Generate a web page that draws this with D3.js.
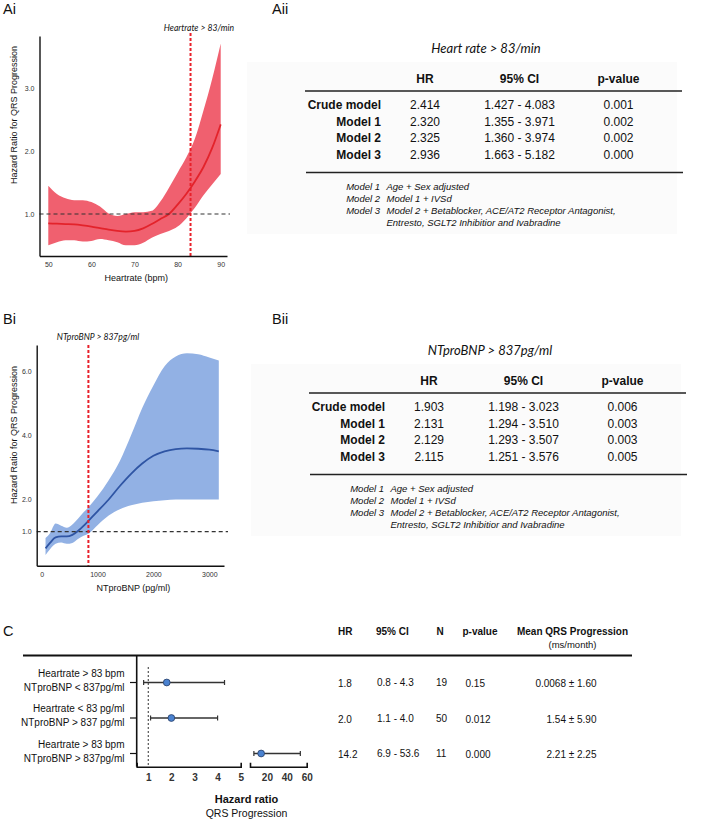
<!DOCTYPE html>
<html>
<head>
<meta charset="utf-8">
<script src="https://cdn.jsdelivr.net/npm/d3@7"></script>
<style>
  body { margin: 0; background: #fff; }
  text { font-family: "Liberation Sans", Arial, sans-serif; fill: #111; }
  .it { font-family: Lato, "Open Sans", sans-serif; font-style: italic; }
  .tick text { font-size: 7px; fill: #333; }
</style>
</head>
<body>
<svg id="fig" width="709" height="836"></svg>
<script>
// ---- panel Ai : heart rate spline ----
let hrX     = [50, 52, 54, 56, 58, 60, 62, 64, 66, 68, 70, 72, 74, 76, 78, 80, 82, 84, 86, 88, 90];
let hrFit   = [0.85, 0.845, 0.84, 0.835, 0.82, 0.80, 0.775, 0.75, 0.73, 0.72, 0.73, 0.77, 0.84, 0.92, 1.0, 1.15, 1.32, 1.52, 1.75, 2.05, 2.43];
let hrUpper = [1.45, 1.32, 1.25, 1.22, 1.22, 1.19, 1.12, 1.01, 0.97, 1.0, 1.03, 1.03, 1.05, 1.2, 1.42, 1.66, 1.9, 2.2, 2.65, 3.15, 3.72];
let hrLower = [0.5, 0.55, 0.58, 0.58, 0.56, 0.57, 0.6, 0.58, 0.55, 0.5, 0.5, 0.54, 0.62, 0.68, 0.73, 0.8, 0.93, 1.1, 1.3, 1.47, 1.64];
let hrXTicks = [50, 60, 70, 80, 90];
let hrYTicks = [1, 2, 3];
let hrCut = 83;

// ---- panel Bi : NTproBNP spline ----
let bnpX     = [70, 150, 250, 350, 450, 550, 650, 750, 850, 1000, 1200, 1400, 1600, 1800, 2000, 2200, 2400, 2600, 2800, 3000, 3170];
let bnpFit   = [0.48, 0.65, 0.82, 0.85, 0.85, 0.9, 1.02, 1.18, 1.36, 1.63, 2.0, 2.42, 2.8, 3.12, 3.36, 3.5, 3.57, 3.59, 3.58, 3.55, 3.5];
let bnpUpper = [0.8, 0.95, 1.25, 1.18, 1.12, 1.22, 1.4, 1.6, 1.78, 2.1, 2.6, 3.2, 4.0, 4.85, 5.55, 6.15, 6.45, 6.55, 6.52, 6.42, 6.33];
let bnpLower = [0.27, 0.45, 0.62, 0.66, 0.62, 0.65, 0.77, 0.87, 0.95, 1.2, 1.5, 1.7, 1.82, 1.9, 1.95, 1.98, 2.0, 2.0, 2.0, 2.0, 2.0];
let bnpXTicks = [0, 1000, 2000, 3000];
let bnpYTicks = [1, 2, 4, 6];
let bnpCut = 837;

// ---- tables Aii / Bii ----
let modelNames = ["Crude model", "Model 1", "Model 2", "Model 3"];
let hrTableHR  = ["2.414", "2.320", "2.325", "2.936"];
let hrTableCI  = ["1.427 - 4.083", "1.355 - 3.971", "1.360 - 3.974", "1.663 - 5.182"];
let hrTableP   = ["0.001", "0.002", "0.002", "0.000"];
let bnpTableHR = ["1.903", "2.131", "2.129", "2.115"];
let bnpTableCI = ["1.198 - 3.023", "1.294 - 3.510", "1.293 - 3.507", "1.251 - 3.576"];
let bnpTableP  = ["0.006", "0.003", "0.003", "0.005"];
let footKeys  = ["Model 1", "Model 2", "Model 3", ""];
let footTexts = ["Age + Sex adjusted", "Model 1 + IVSd",
                 "Model 2 + Betablocker, ACE/AT2 Receptor Antagonist,",
                 "Entresto, SGLT2 Inhibitior and Ivabradine"];

// ---- panel C : forest plot ----
let groupLine1 = ["Heartrate > 83 bpm", "Heartrate < 83 pg/ml", "Heartrate > 83 bpm"];
let groupLine2 = ["NTproBNP < 837pg/ml", "NTproBNP > 837 pg/ml", "NTproBNP > 837pg/ml"];
let groupHR    = [1.8, 2.0, 14.2];
let groupLo    = [0.8, 1.1, 6.9];
let groupHi    = [4.3, 4.0, 53.6];
let groupN     = [19, 50, 11];
let groupP     = ["0.15", "0.012", "0.000"];
let groupMean  = ["0.0068 ± 1.60", "1.54 ± 5.90", "2.21 ± 2.25"];
let forestTicksLow  = [1, 2, 3, 4, 5];
let forestTicksHigh = [20, 40, 60];

let svg = d3.select("#fig");

// panel letters
[["Ai", 3, 14], ["Aii", 272, 14], ["Bi", 3, 324], ["Bii", 272, 324], ["C", 3, 636]].forEach(function(l) {
    svg.append("text").attr("x", l[1]).attr("y", l[2]).style("font-size", "14.5px").text(l[0]);
});

/**
 * spline plot with confidence band
 */
function splinePlot(opt) {
    let g = svg.append("g");
    let x = d3.scaleLinear().domain(opt.xDomain).range(opt.xRange);
    let y = d3.scaleLinear().domain(opt.yDomain).range(opt.yRange);

    let rows = opt.xs.map(function(d, i) {
        return { x: d, fit: opt.fit[i], lo: opt.lower[i], hi: opt.upper[i] };
    });

    let area = d3.area()
        .x(function(d) { return x(d.x); })
        .y0(function(d) { return y(d.lo); })
        .y1(function(d) { return y(d.hi); })
        .curve(d3.curveMonotoneX);
    let line = d3.line()
        .x(function(d) { return x(d.x); })
        .y(function(d) { return y(d.fit); })
        .curve(d3.curveMonotoneX);

    g.append("path").datum(rows).attr("d", area).attr("fill", opt.band);
    g.append("path").datum(rows).attr("d", line)
        .attr("fill", "none").attr("stroke", opt.color).attr("stroke-width", 1.8);

    // reference line HR = 1
    g.append("line")
        .attr("x1", opt.xRange[0]).attr("x2", opt.refEnd)
        .attr("y1", y(1)).attr("y2", y(1))
        .attr("stroke", "#333").attr("stroke-width", 1.1).attr("stroke-dasharray", "4,3");

    // cut off
    g.append("line")
        .attr("x1", x(opt.cut)).attr("x2", x(opt.cut))
        .attr("y1", opt.cutTop).attr("y2", opt.yRange[0])
        .attr("stroke", "#e8202a").attr("stroke-width", 2).attr("stroke-dasharray", "3,2");
    g.append("text").attr("class", "it")
        .attr("x", opt.cutLabelX).attr("y", opt.cutLabelY)
        .attr("text-anchor", "middle").style("font-size", "8.6px")
        .text(opt.cutLabel);

    let ax = g.append("g")
        .attr("transform", "translate(0," + opt.yRange[0] + ")")
        .call(d3.axisBottom(x).tickValues(opt.xTicks).tickSize(0).tickSizeOuter(0).tickPadding(6)
            .tickFormat(d3.format("d")));
    let ay = g.append("g")
        .attr("transform", "translate(" + opt.xRange[0] + ",0)")
        .call(d3.axisLeft(y).tickValues(opt.yTicks).tickSize(0).tickSizeOuter(0).tickPadding(5)
            .tickFormat(d3.format(".1f")));
    [ax, ay].forEach(function(a) {
        a.select(".domain").attr("stroke", "#111").attr("stroke-width", 1.4);
    });

    g.append("text")
        .attr("x", (opt.xRange[0] + opt.xRange[1]) / 2 + 3).attr("y", opt.xTitleY)
        .attr("text-anchor", "middle").style("font-size", "9px").text(opt.xTitle);
    g.append("text")
        .attr("transform", "translate(17," + opt.yTitleY + ") rotate(-90)")
        .attr("text-anchor", "middle").style("font-size", "9px")
        .text("Hazard Ratio for QRS Progression");
}

splinePlot({
    xs: hrX, fit: hrFit, upper: hrUpper, lower: hrLower,
    xDomain: [47.96, 91.46], xRange: [39.5, 227],
    yDomain: [0.33, 3.84], yRange: [256, 36],
    xTicks: hrXTicks, yTicks: hrYTicks,
    band: "#f0606f", color: "#e3232b",
    cut: hrCut, cutTop: 33, cutLabel: "Heartrate > 83/min", cutLabelX: 199, cutLabelY: 31,
    refEnd: 230, xTitle: "Heartrate (bpm)", xTitleY: 281, yTitleY: 115
});

splinePlot({
    xs: bnpX, fit: bnpFit, upper: bnpUpper, lower: bnpLower,
    xDomain: [-88, 3263], xRange: [36.7, 224],
    yDomain: [-0.06, 6.81], yRange: [565.7, 345],
    xTicks: bnpXTicks, yTicks: bnpYTicks,
    band: "#92b1e4", color: "#2f55a4",
    cut: bnpCut, cutTop: 345, cutLabel: "NTproBNP > 837pg/ml", cutLabelX: 98, cutLabelY: 340,
    refEnd: 228, xTitle: "NTproBNP (pg/ml)", xTitleY: 591, yTitleY: 435
});

/**
 * regression table
 */
function regTable(opt) {
    let g = svg.append("g").attr("transform", "translate(" + opt.dx + "," + opt.dy + ")");
    g.append("rect").attr("x", 247).attr("y", 62).attr("width", 430).attr("height", 172).attr("fill", "#fbfbfb");
    g.append("text").attr("class", "it").attr("x", 486).attr("y", 53)
        .attr("text-anchor", "middle").style("font-size", "13px").text(opt.title);

    let cols = [425, 519.5, 618.5];
    ["HR", "95% CI", "p-value"].forEach(function(h, i) {
        g.append("text").attr("x", cols[i]).attr("y", 83).attr("text-anchor", "middle")
            .style("font-size", "12px").style("font-weight", "bold").text(h);
    });
    g.append("line").attr("x1", 305).attr("x2", 682).attr("y1", 91).attr("y2", 91)
        .attr("stroke", "#222").attr("stroke-width", 1.6);

    let rowY = d3.scaleLinear().domain([0, 3]).range([109, 158.5]);
    modelNames.forEach(function(name, i) {
        g.append("text").attr("x", 381).attr("y", rowY(i)).attr("text-anchor", "end")
            .style("font-size", "12px").style("font-weight", "bold").text(name);
        [opt.hr[i], opt.ci[i], opt.p[i]].forEach(function(v, j) {
            g.append("text").attr("x", cols[j]).attr("y", rowY(i)).attr("text-anchor", "middle")
                .style("font-size", "12px").text(v);
        });
    });
    g.append("line").attr("x1", 306).attr("x2", 683).attr("y1", 172.5).attr("y2", 172.5)
        .attr("stroke", "#222").attr("stroke-width", 1.6);

    footTexts.forEach(function(t, i) {
        let yy = 190 + i * 11.9;
        g.append("text").attr("x", 380).attr("y", yy).attr("text-anchor", "end")
            .style("font-size", "9.5px").style("font-style", "italic").text(footKeys[i]);
        g.append("text").attr("x", 386.5).attr("y", yy)
            .style("font-size", "9.5px").style("font-style", "italic").text(t);
    });
}

regTable({ dx: 0, dy: 0, title: "Heart rate > 83/min", hr: hrTableHR, ci: hrTableCI, p: hrTableP });
regTable({ dx: 4, dy: 302, title: "NTproBNP > 837pg/ml", hr: bnpTableHR, ci: bnpTableCI, p: bnpTableP });

// ---- panel C ----
let fc = svg.append("g");
let xLow  = d3.scaleLinear().domain([0.5, 5]).range([136.7, 240.7]);
let xHigh = d3.scaleLinear().domain([3, 60]).range([250, 306.7]);
let rowPos = d3.scaleLinear().domain([0, 2]).range([682.5, 753.5]);
let axisY = 766.7;

// header
let heads = [["HR", 338, 635, "start"], ["95% CI", 376, 635, "start"], ["N", 436.5, 635, "start"],
             ["p-value", 462.5, 635, "start"], ["Mean QRS Progression", 572.5, 635, "middle"]];
heads.forEach(function(h) {
    fc.append("text").attr("x", h[1]).attr("y", h[2]).attr("text-anchor", h[3])
        .style("font-size", "10px").style("font-weight", "bold").text(h[0]);
});
fc.append("text").attr("x", 572.5).attr("y", 647.5).attr("text-anchor", "middle")
    .style("font-size", "9.5px").text("(ms/month)");
fc.append("line").attr("x1", 23).attr("x2", 632).attr("y1", 655.5).attr("y2", 655.5)
    .attr("stroke", "#111").attr("stroke-width", 1.8);

// axes
fc.append("line").attr("x1", 136.7).attr("x2", 136.7).attr("y1", 655.5).attr("y2", axisY)
    .attr("stroke", "#111").attr("stroke-width", 1.6);
fc.append("line").attr("x1", xLow(1)).attr("x2", xLow(1)).attr("y1", 667).attr("y2", axisY)
    .attr("stroke", "#333").attr("stroke-width", 1).attr("stroke-dasharray", "2,2");

let axLow = fc.append("g").attr("transform", "translate(0," + axisY + ")")
    .call(d3.axisBottom(xLow).tickValues(forestTicksLow).tickSize(0).tickSizeOuter(-4).tickPadding(7)
        .tickFormat(d3.format("d")));
let axHigh = fc.append("g").attr("transform", "translate(0," + axisY + ")")
    .call(d3.axisBottom(xHigh).tickValues(forestTicksHigh).tickSize(0).tickSizeOuter(-4).tickPadding(7)
        .tickFormat(d3.format("d")));
[axLow, axHigh].forEach(function(a) {
    a.select(".domain").attr("stroke", "#111").attr("stroke-width", 1.6);
    a.selectAll(".tick text").style("font-size", "10px").style("font-weight", "bold").attr("fill", "#111");
});

groupHR.forEach(function(hr, i) {
    let sc = hr > 5 ? xHigh : xLow;
    let yy = rowPos(i);
    fc.append("line").attr("x1", 130).attr("x2", 136.7).attr("y1", yy).attr("y2", yy)
        .attr("stroke", "#111").attr("stroke-width", 1.2);
    fc.append("line").attr("x1", sc(groupLo[i])).attr("x2", sc(groupHi[i])).attr("y1", yy).attr("y2", yy)
        .attr("stroke", "#333").attr("stroke-width", 1.3);
    [groupLo[i], groupHi[i]].forEach(function(v) {
        fc.append("line").attr("x1", sc(v)).attr("x2", sc(v)).attr("y1", yy - 2.5).attr("y2", yy + 2.5)
            .attr("stroke", "#333").attr("stroke-width", 1.2);
    });
    fc.append("circle").attr("cx", sc(hr)).attr("cy", yy).attr("r", 3.4)
        .attr("fill", "#4a82d0").attr("stroke", "#2a3f66").attr("stroke-width", 0.8);

    fc.append("text").attr("x", 124.5).attr("y", yy - 5.8).attr("text-anchor", "end")
        .style("font-size", "10px").text(groupLine1[i]);
    fc.append("text").attr("x", 124.5).attr("y", yy + 8).attr("text-anchor", "end")
        .style("font-size", "10px").text(groupLine2[i]);

    let ty = yy + 4.5;
    fc.append("text").attr("x", 338).attr("y", ty).style("font-size", "10px").text(hr.toFixed(1));
    fc.append("text").attr("x", 377).attr("y", ty - 1).style("font-size", "10px")
        .text(groupLo[i].toFixed(1) + " - " + groupHi[i].toFixed(1));
    fc.append("text").attr("x", 436).attr("y", ty - 1).style("font-size", "10px").text(groupN[i]);
    fc.append("text").attr("x", 465.5).attr("y", ty).style("font-size", "10px").text(groupP[i]);
    fc.append("text").attr("x", 596.5).attr("y", ty).attr("text-anchor", "end")
        .style("font-size", "10px").text(groupMean[i]);
});

fc.append("text").attr("x", 246.5).attr("y", 803).attr("text-anchor", "middle")
    .style("font-size", "11px").style("font-weight", "bold").text("Hazard ratio");
fc.append("text").attr("x", 246.5).attr("y", 816.5).attr("text-anchor", "middle")
    .style("font-size", "10.5px").text("QRS Progression");
</script>
</body>
</html>
